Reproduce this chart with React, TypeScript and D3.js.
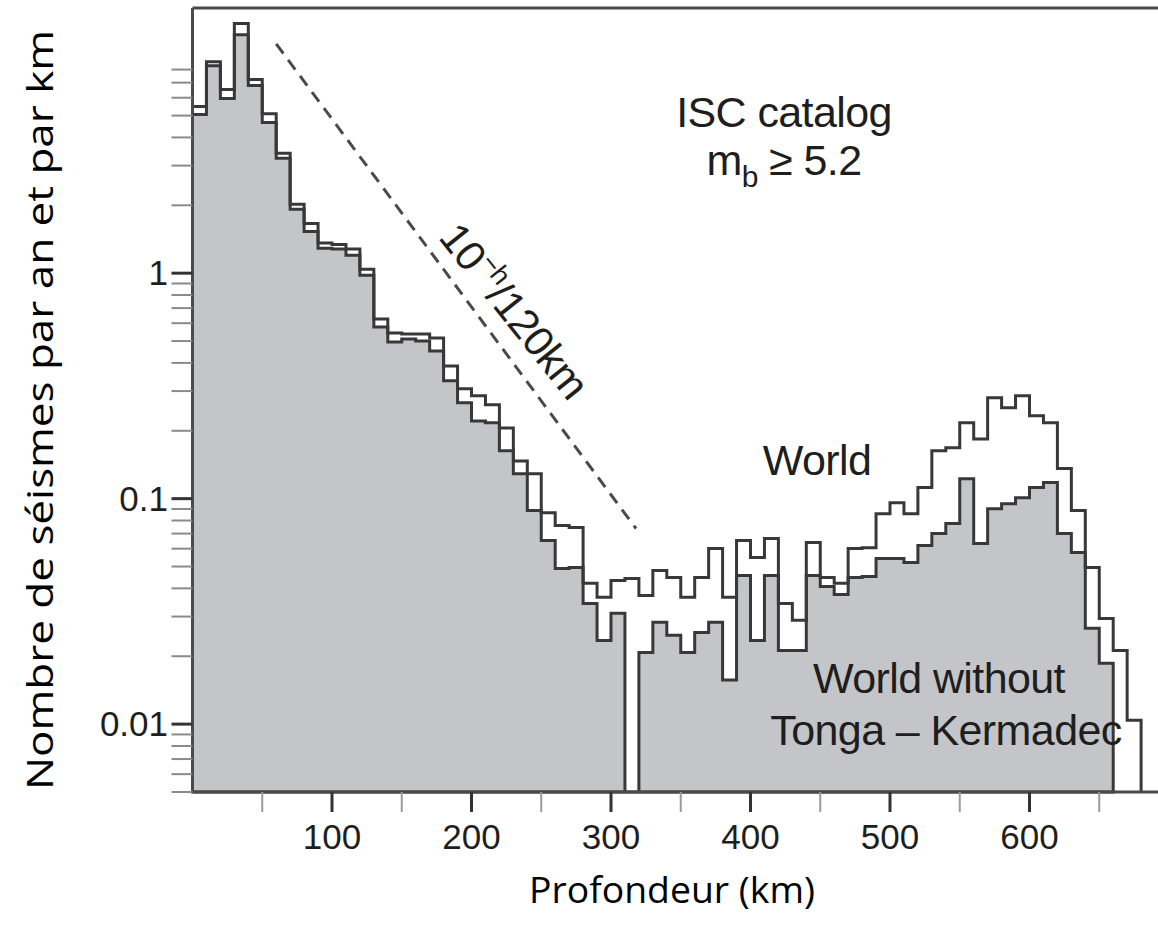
import React, { useEffect, useRef } from "react";
import * as d3 from "d3";

// earthquakes per year and per km, 10 km depth bins starting at 0 km
const BIN_KM = 10;

const worldRate: number[] = [
  5.48, 8.67, 6.52, 12.8, 7.22, 5.1, 3.4, 2.02, 1.66, 1.36,
  1.34, 1.28, 1.04, 0.626, 0.543, 0.537, 0.537, 0.516, 0.388, 0.307,
  0.286, 0.261, 0.206, 0.147, 0.129, 0.0867, 0.076, 0.0744, 0.0421, 0.0365,
  0.0434, 0.0443, 0.0372, 0.048, 0.0447, 0.0365, 0.0447, 0.0601, 0.0365, 0.0652,
  0.0548, 0.0665, 0.0343, 0.0289, 0.0639, 0.0447, 0.0421, 0.0601, 0.0606, 0.0858,
  0.096, 0.0858, 0.112, 0.163, 0.168, 0.217, 0.184, 0.28, 0.253, 0.286,
  0.233, 0.217, 0.136, 0.0885, 0.0495, 0.0294, 0.0212, 0.0104,
];

// world without Tonga - Kermadec (0 = empty bin)
const withoutTongaRate: number[] = [
  5.05, 8.32, 5.95, 11.4, 6.79, 4.66, 3.23, 1.92, 1.53, 1.29,
  1.28, 1.2, 0.98, 0.577, 0.495, 0.511, 0.5, 0.452, 0.333, 0.266,
  0.221, 0.217, 0.163, 0.129, 0.0885, 0.0652, 0.049, 0.0495, 0.0343, 0.0235,
  0.031, 0, 0.0208, 0.0283, 0.0248, 0.0208, 0.0255, 0.0283, 0.0157, 0.0456,
  0.0235, 0.0456, 0.0212, 0.0212, 0.0456, 0.0408, 0.0376, 0.0447, 0.0452, 0.0543,
  0.0543, 0.0521, 0.0619, 0.07, 0.0775, 0.1226, 0.0632, 0.0903, 0.095, 0.101,
  0.112, 0.118, 0.07, 0.0577, 0.0266, 0.0186,
];

const xMajorTicks = [100, 200, 300, 400, 500, 600];
const xMinorTicks = [50, 150, 250, 350, 450, 550, 650];
const yMajorTicks = [0.01, 0.1, 1];
const yTickLabels = ["0.01", "0.1", "1"];

// 10^(-h/120 km) guide, drawn between these depths
const guideDepths = [60, 318];
const guideValueAtStart = 10.4;

export default function App() {
  const svgRef = useRef<SVGSVGElement | null>(null);

  useEffect(() => {
    const width = 1158;
    const height = 932;
    const svg = d3.select(svgRef.current);
    svg.selectAll("*").remove();

    const x = d3.scaleLinear().domain([0, 700]).range([192.5, 1169]);
    const yMin = 0.005;
    const y = d3.scaleLog().domain([yMin, 15]).range([792, 8]).clamp(true);
    const yPos = (v: number) => y(Math.max(v, yMin));
    const floorY = y(yMin);
    const sans = "'Liberation Sans', Arial, sans-serif";

    svg.append("rect").attr("width", width).attr("height", height).attr("fill", "#fff");

    // step outline of a histogram
    const stepPoints = (vals: number[]): [number, number][] => {
      const pts: [number, number][] = [[x(0), floorY]];
      vals.forEach((v, i) => pts.push([x(i * BIN_KM), yPos(v)]));
      pts.push([x(vals.length * BIN_KM), yPos(vals[vals.length - 1])]);
      pts.push([x(vals.length * BIN_KM), floorY]);
      return pts;
    };
    const stepLine = d3.line().curve(d3.curveStepAfter);

    svg.append("path")
      .attr("d", stepLine(stepPoints(withoutTongaRate)) + "Z")
      .attr("fill", "#c4c5c9")
      .attr("stroke", "#383838")
      .attr("stroke-width", 3);

    svg.append("path")
      .attr("d", stepLine(stepPoints(worldRate)))
      .attr("fill", "none")
      .attr("stroke", "#383838")
      .attr("stroke-width", 3);

    // dashed guide
    const guide = guideDepths.map((h) => ({
      h,
      v: guideValueAtStart * Math.pow(10, -(h - guideDepths[0]) / 120),
    }));
    svg.append("path")
      .attr("d", d3.line<{ h: number; v: number }>().x((d) => x(d.h)).y((d) => y(d.v))(guide))
      .attr("fill", "none")
      .attr("stroke", "#4a4a4a")
      .attr("stroke-width", 3)
      .attr("stroke-dasharray", "12,8");

    const gx0 = x(guide[0].h), gy0 = y(guide[0].v);
    const gx1 = x(guide[1].h), gy1 = y(guide[1].v);
    const angle = (Math.atan2(gy1 - gy0, gx1 - gx0) * 180) / Math.PI;
    const guideLabel = svg.append("text")
      .attr("transform", `translate(503,320) rotate(${angle - 2})`)
      .attr("text-anchor", "middle")
      .attr("font-family", sans)
      .attr("font-size", 42)
      .attr("letter-spacing", -0.5)
      .attr("fill", "#1e1e1e");
    guideLabel.append("tspan").text("10");
    guideLabel.append("tspan").attr("font-size", 27).attr("dy", -17).text("−h");
    guideLabel.append("tspan").attr("dy", 17).text("/120km");

    // frame
    const frame = svg.append("g").attr("stroke", "#4a4a4a").attr("stroke-width", 3);
    frame.append("line").attr("x1", x(0)).attr("x2", x(0)).attr("y1", 8).attr("y2", floorY);
    frame.append("line").attr("x1", x(0)).attr("x2", width).attr("y1", 8).attr("y2", 8);
    frame.append("line").attr("x1", x(0)).attr("x2", width).attr("y1", floorY).attr("y2", floorY);

    // y axis ticks
    const yMinor = y.ticks().filter((t) => t <= 8.5 && !yMajorTicks.includes(t));
    svg.append("g").selectAll("line").data(yMinor).join("line")
      .attr("x1", x(0) - 21).attr("x2", x(0))
      .attr("y1", (d) => y(d)).attr("y2", (d) => y(d))
      .attr("stroke", "#8a8a8a").attr("stroke-width", 2);
    svg.append("g").selectAll("line").data(yMajorTicks).join("line")
      .attr("x1", x(0) - 21).attr("x2", x(0))
      .attr("y1", (d) => y(d)).attr("y2", (d) => y(d))
      .attr("stroke", "#333").attr("stroke-width", 3);
    svg.append("g").selectAll("text").data(yMajorTicks).join("text")
      .attr("x", 168).attr("y", (d) => y(d) + 12)
      .attr("text-anchor", "end")
      .attr("font-family", sans)
      .attr("font-size", 35).attr("fill", "#1e1e1e")
      .text((_, i) => yTickLabels[i]);

    // x axis ticks
    svg.append("g").selectAll("line").data(xMinorTicks).join("line")
      .attr("x1", (d) => x(d)).attr("x2", (d) => x(d))
      .attr("y1", floorY).attr("y2", floorY + 20)
      .attr("stroke", "#9a9a9a").attr("stroke-width", 2);
    svg.append("g").selectAll("line").data(xMajorTicks).join("line")
      .attr("x1", (d) => x(d)).attr("x2", (d) => x(d))
      .attr("y1", floorY).attr("y2", floorY + 20)
      .attr("stroke", "#333").attr("stroke-width", 3);
    svg.append("g").selectAll("text").data(xMajorTicks).join("text")
      .attr("x", (d) => x(d)).attr("y", floorY + 57)
      .attr("text-anchor", "middle")
      .attr("font-family", sans)
      .attr("font-size", 35).attr("fill", "#1e1e1e")
      .text((d) => String(d));

    // annotations
    const note = (tx: number, ty: number, s: string) =>
      svg.append("text").attr("x", tx).attr("y", ty)
        .attr("text-anchor", "middle")
        .attr("font-family", sans)
        .attr("font-size", 43).attr("letter-spacing", -0.6)
        .attr("fill", "#1e1e1e").text(s);
    note(784, 127, "ISC catalog");
    const mb = svg.append("text").attr("x", 784).attr("y", 175)
      .attr("text-anchor", "middle")
      .attr("font-family", sans)
      .attr("font-size", 43).attr("letter-spacing", -0.6).attr("fill", "#1e1e1e");
    mb.append("tspan").text("m");
    mb.append("tspan").attr("font-size", 30).attr("dy", 12).text("b");
    mb.append("tspan").attr("dy", -12).text(" ≥ 5.2");
    note(817, 475, "World");
    note(939, 693, "World without");
    note(946, 745, "Tonga – Kermadec");

    // axis titles
    svg.append("text")
      .attr("x", 672).attr("y", 903)
      .attr("text-anchor", "middle")
      .attr("font-family", "'Open Sans', 'Noto Sans', sans-serif")
      .attr("font-size", 37).attr("fill", "#000")
      .attr("textLength", 286).attr("lengthAdjust", "spacingAndGlyphs")
      .text("Profondeur (km)");
    svg.append("text")
      .attr("transform", "translate(53,410) rotate(-90)")
      .attr("text-anchor", "middle")
      .attr("font-family", "'Open Sans', 'Noto Sans', sans-serif")
      .attr("font-size", 37).attr("fill", "#000")
      .attr("textLength", 760).attr("lengthAdjust", "spacingAndGlyphs")
      .text("Nombre de séismes par an et par km");
  }, []);

  return (
    <svg
      ref={svgRef}
      width={1158}
      height={932}
      style={{ position: "absolute", left: 0, top: 0, display: "block" }}
    />
  );
}
